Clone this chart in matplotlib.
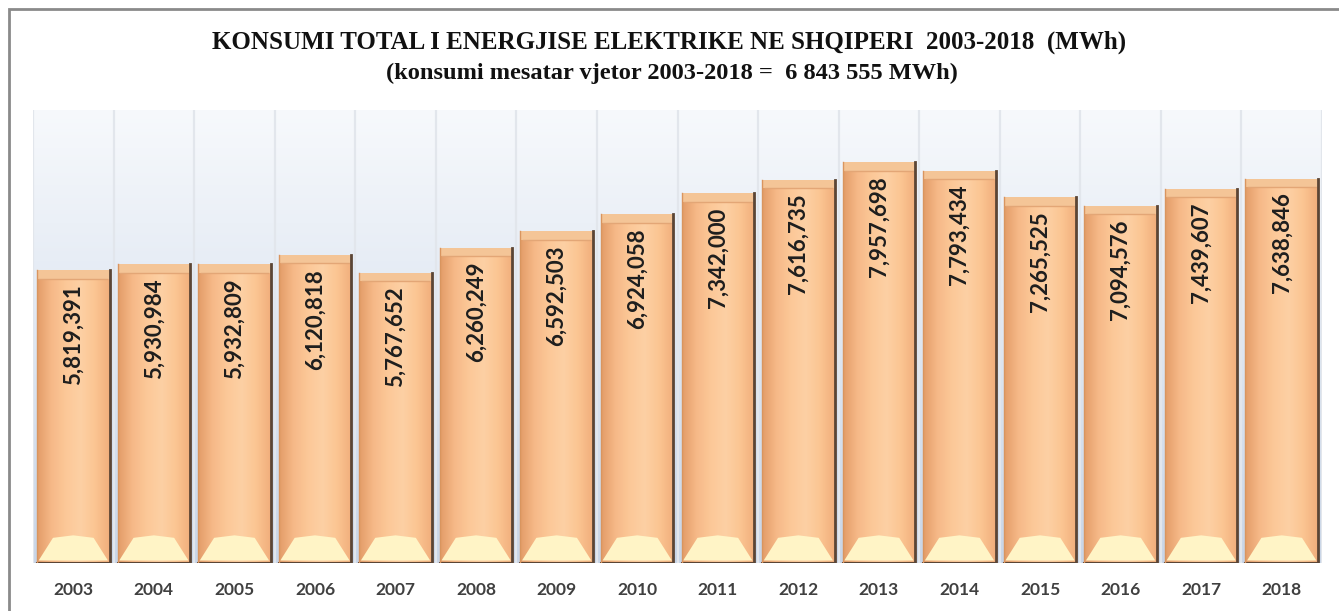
import matplotlib.pyplot as plt
import numpy as np
from matplotlib.patches import Rectangle, Polygon
from matplotlib.colors import LinearSegmentedColormap

years = ['2003', '2004', '2005', '2006', '2007', '2008', '2009', '2010',
         '2011', '2012', '2013', '2014', '2015', '2016', '2017', '2018']
consumption = [5819391, 5930984, 5932809, 6120818, 5767652, 6260249, 6592503, 6924058,
               7342000, 7616735, 7957698, 7793434, 7265525, 7094576, 7439607, 7638846]
title1 = 'KONSUMI TOTAL I ENERGJISE ELEKTRIKE NE SHQIPERI  2003-2018  (MWh)'
title2 = '(konsumi mesatar vjetor 2003-2018 =  6 843 555 MWh)'

fig = plt.figure(figsize=(13.39, 6.11), dpi=100)
fig.patch.set_facecolor('white')
ax = fig.add_axes([33 / 1339, 1 - 563 / 611, (1322 - 33) / 1339, (563 - 110) / 611])

ymax = 9.0e6
x = np.arange(len(years))

# background gradient, white at top to light blue at bottom
bg = LinearSegmentedColormap.from_list('bg', ['#c8d5e7', '#dfe7f2', '#f7f9fc'])
ax.imshow(np.linspace(0, 1, 256).reshape(-1, 1), cmap=bg, origin='lower',
          extent=[-0.5, len(years) - 0.5, 0, ymax], aspect='auto', zorder=0)
for k in range(len(years) + 1):
    ax.axvline(k - 0.5, color='#e2e6ec', lw=1.6, zorder=1)

bars = ax.bar(x, consumption, width=0.9, color='#f9c08e', edgecolor='none', zorder=2)

# horizontal shading inside each bar
shade = LinearSegmentedColormap.from_list(
    'shade', ['#e39c68', '#f6b988', '#fcc898', '#fdd0a4', '#fbc592', '#f1ae7c'])
profile = np.linspace(0, 1, 200).reshape(1, -1)
bevel_h = 0.5e6
top_h = 0.17e6
for b in bars:
    x0, w, h = b.get_x(), b.get_width(), b.get_height()
    im = ax.imshow(profile, cmap=shade, extent=[x0, x0 + w, 0, h], aspect='auto', zorder=3)
    im.set_clip_path(b)
    # top bevel
    ax.add_patch(Rectangle((x0, h - top_h), w, top_h, facecolor='#f4c597',
                           edgecolor='none', zorder=4))
    ax.plot([x0 + 0.03, x0 + w - 0.03], [h - top_h, h - top_h], color='#e3a676', lw=1, zorder=4)
    # pale highlight at bottom
    ax.add_patch(Polygon([(x0 + 0.02, 0.05e6), (x0 + w - 0.02, 0.05e6),
                          (x0 + w * 0.78, bevel_h), (x0 + w * 0.5, bevel_h * 1.1),
                          (x0 + w * 0.22, bevel_h)],
                         closed=True, facecolor='#fff4c6', edgecolor='none', zorder=4))
    # dark right and bottom edges
    ax.plot([x0 + w, x0 + w], [0, h], color='#5b4535', lw=2, zorder=5)
    ax.plot([x0, x0 + w], [0, 0], color='#5b4535', lw=1.5, zorder=5)
    ax.plot([x0, x0], [0, h], color='#d9955f', lw=1, zorder=5)

for xi, v in zip(x, consumption):
    ax.annotate(f'{v:,}', xy=(xi, v), xytext=(0, -10), textcoords='offset points',
                rotation=90, ha='center', va='top', fontsize=16, fontweight='bold',
                family='Lato', color='#1e1e1e', zorder=6)

ax.set_xlim(-0.5, len(years) - 0.5)
ax.set_ylim(0, ymax)
ax.set_xticks(x, years)
ax.tick_params(axis='x', length=0, pad=14, labelsize=12.5, labelcolor='#404040')
for t in ax.get_xticklabels():
    t.set_fontweight('bold')
    t.set_family('Lato')
ax.set_yticks([])
for s in ax.spines.values():
    s.set_visible(False)

fig.text(0.5, 1 - 42 / 611, title1, ha='center', va='center', fontsize=18,
         fontweight='bold', family='Liberation Serif', color='#111111')
fig.text(0.502, 1 - 73 / 611, title2, ha='center', va='center', fontsize=17.6,
         fontweight='bold', family='Liberation Serif', color='#111111')

# outer frame
fig.add_artist(Rectangle((9 / 1339, -0.05), 1.1, 1 - 9 / 611 + 0.05, transform=fig.transFigure,
                         fill=False, edgecolor='#8a8a8a', lw=2, clip_on=False))

fig.savefig('out.png', dpi=100)
